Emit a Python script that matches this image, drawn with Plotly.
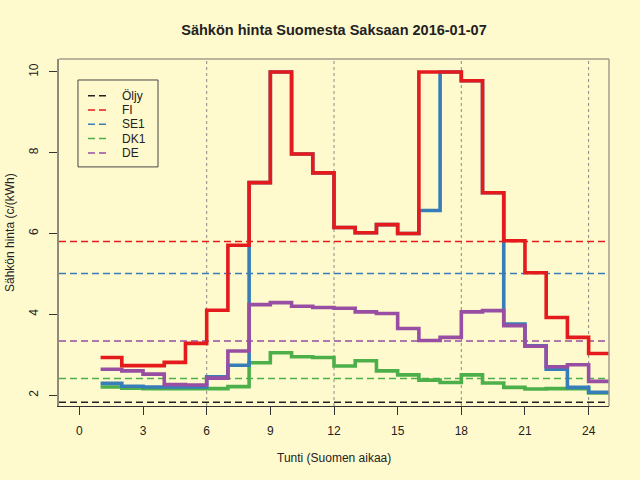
import plotly.graph_objects as go

# ---- data ----
hours = list(range(1, 25))
FI = [2.93, 2.73, 2.73, 2.81, 3.28, 4.10, 5.71, 7.26, 10.0, 7.97, 7.50, 6.15,
      6.02, 6.22, 6.00, 10.0, 10.0, 9.78, 7.01, 5.82, 5.03, 3.92, 3.43, 3.03]
SE1 = [2.29, 2.22, 2.20, 2.20, 2.20, 2.45, 2.74, 7.26, 10.0, 7.97, 7.50, 6.15,
       6.02, 6.22, 6.00, 6.57, 10.0, 9.78, 7.01, 3.76, 3.22, 2.64, 2.19, 2.07]
DK1 = [2.20, 2.17, 2.16, 2.16, 2.16, 2.16, 2.21, 2.80, 3.05, 2.95, 2.93, 2.72,
       2.85, 2.60, 2.50, 2.37, 2.31, 2.50, 2.30, 2.19, 2.15, 2.16, 2.16, 2.05]
DE = [2.64, 2.60, 2.52, 2.26, 2.25, 2.42, 3.09, 4.24, 4.29, 4.20, 4.17, 4.15,
      4.06, 4.02, 3.65, 3.35, 3.43, 4.06, 4.09, 3.72, 3.21, 2.70, 2.75, 2.34]

legend_names = ["Öljy", "FI", "SE1", "DK1", "DE"]
mean_values = [1.82, 5.80, 5.01, 2.41, 3.34]
x_ticks = [0, 3, 6, 9, 12, 15, 18, 21, 24]
y_ticks = [2, 4, 6, 8, 10]
vlines = [6, 12, 18, 24]

colors = {"Öljy": "#222222", "FI": "#E41A1C", "SE1": "#377EB8",
          "DK1": "#4DAF4A", "DE": "#984EA3"}
BG = "#FFFACD"
FONT = "Liberation Sans, Arial, sans-serif"
TXT = "#222222"

fig = go.Figure()

# step series, drawn in this order so red stays on top
for name, vals in [("DK1", DK1), ("SE1", SE1), ("DE", DE), ("FI", FI)]:
    xs = hours + [hours[-1] + 1]
    ys = vals + [vals[-1]]
    fig.add_trace(go.Scatter(x=xs, y=ys, mode="lines", line_shape="hv",
                             line=dict(color=colors[name], width=3.6),
                             showlegend=False, hoverinfo="skip"))

shapes = []
# vertical dotted guides
for v in vlines:
    shapes.append(dict(type="line", xref="x", yref="y domain", x0=v, x1=v,
                       y0=0, y1=1, layer="below",
                       line=dict(color="#8a8a80", width=1, dash="dot")))
# dashed mean lines
for name, m in zip(legend_names, mean_values):
    shapes.append(dict(type="line", xref="x domain", yref="y", x0=0, x1=1,
                       y0=m, y1=m, layer="below",
                       line=dict(color=colors[name], width=1.5, dash="7px,4px")))
# plot frame (top / right grey)
shapes.append(dict(type="line", xref="paper", yref="paper", x0=0, x1=1, y0=1, y1=1,
                   line=dict(color="#a39d8c", width=1.5)))
shapes.append(dict(type="line", xref="paper", yref="paper", x0=1, x1=1, y0=0, y1=1,
                   line=dict(color="#a39d8c", width=1.5)))

# custom legend box
shapes.append(dict(type="rect", xref="paper", yref="paper",
                   x0=0.0345, x1=0.180, y0=0.689, y1=0.9395,
                   line=dict(color="#444444", width=1), fillcolor=BG))
annotations = []
leg_y = [0.8942, 0.8530, 0.8118, 0.7706, 0.7291]
for name, yy in zip(legend_names, leg_y):
    shapes.append(dict(type="line", xref="paper", yref="paper",
                       x0=0.0527, x1=0.0891, y0=yy, y1=yy,
                       line=dict(color=colors[name], width=1.5, dash="7px,4px")))
    annotations.append(dict(xref="paper", yref="paper", x=0.1110, y=yy,
                            text=name, showarrow=False, xanchor="left",
                            yanchor="middle",
                            font=dict(size=12, color=TXT, family=FONT)))

# axis titles as annotations for exact placement
annotations.append(dict(xref="paper", yref="paper", x=0.5, y=(406 - 457.7) / 347,
                        text="Tunti (Suomen aikaa)", showarrow=False,
                        xanchor="center", yanchor="middle",
                        font=dict(size=12, color=TXT, family=FONT)))
annotations.append(dict(xref="paper", yref="paper", x=(9.5 - 59) / 550, y=0.5,
                        text="Sähkön hinta (c/(kWh)", showarrow=False,
                        textangle=-90, xanchor="center", yanchor="middle",
                        font=dict(size=12, color=TXT, family=FONT)))

fig.update_layout(
    width=640, height=480,
    paper_bgcolor=BG, plot_bgcolor=BG,
    margin=dict(l=59, r=31, t=59, b=74, autoexpand=False),
    font=dict(family=FONT, size=12, color=TXT),
    title=dict(text="<b>Sähkön hinta Suomesta Saksaan 2016-01-07</b>",
               x=0.5, xref="paper", xanchor="center", y=1 - 30 / 480,
               yanchor="middle", font=dict(size=14.5, color=TXT, family=FONT)),
    shapes=shapes, annotations=annotations,
    showlegend=False,
)
fig.update_xaxes(range=[-0.96, 24.96], tickvals=x_ticks, ticks="outside",
                 ticklen=8, tickcolor="#333333", showgrid=False, zeroline=False,
                 showline=True, linecolor="#333333", linewidth=1,
                 automargin=False, ticklabelstandoff=6,
                 tickfont=dict(size=12))
fig.update_yaxes(range=[1.73, 10.32], tickvals=y_ticks, ticks="outside",
                 ticklen=8, tickcolor="#333333", showgrid=False, zeroline=False,
                 showline=True, linecolor="#8f8a7c", linewidth=1.5,
                 tickangle=-90, ticklabelstandoff=6, automargin=False,
                 tickfont=dict(size=12))

fig.write_html("out.html",
               config={"displayModeBar": False},
               post_script="document.body.style.margin='0';"
                           "document.body.style.background='" + BG + "';")
